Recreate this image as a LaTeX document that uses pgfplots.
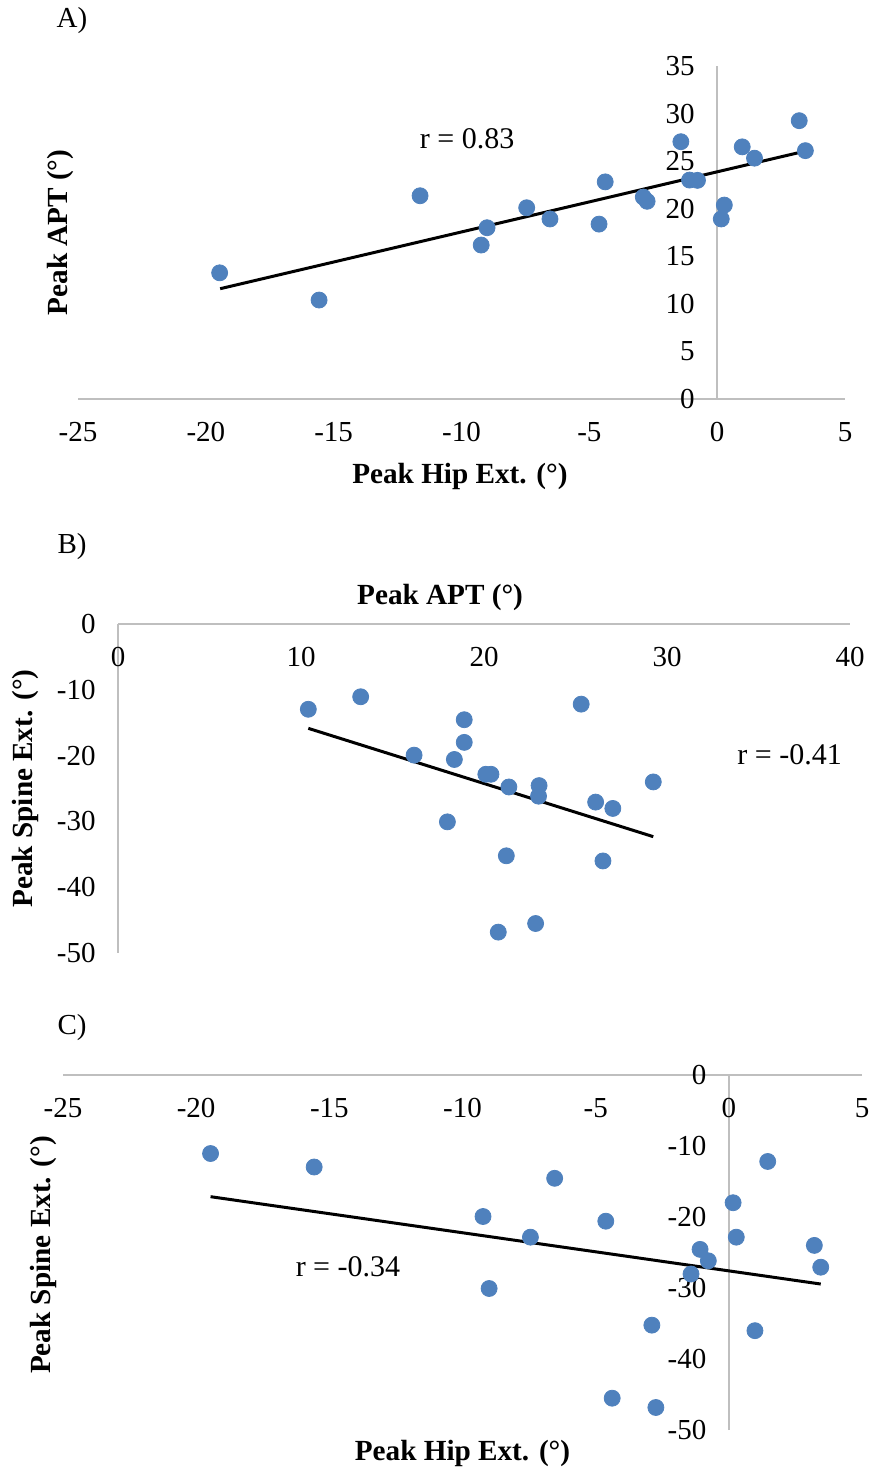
\documentclass[border=0pt]{standalone}
\usepackage{fontspec}
\setmainfont{Liberation Serif}
\usepackage{pgfplots}
\pgfplotsset{compat=1.18}
\usepackage{pgfplotstable}

\definecolor{xlblue}{HTML}{4F81BD}
\definecolor{xlgray}{HTML}{BFBFBF}

% one row per subject; spineC is nan where panel C shows no point
\pgfplotstableread{
hip    apt    spineB  spineC
-19.46 13.26  -11.06  -11.06
-15.57 10.40  -12.96  -12.96
-11.62 21.36  -24.77  nan
-9.23  16.18  -19.93  -19.93
-9.00  18.00  -30.07  -30.07
-7.45  20.10  -22.84  -22.84
-6.54  18.92  -14.55  -14.55
-4.62  18.38  -20.59  -20.59
-4.38  22.82  -45.52  -45.52
-2.89  21.22  -35.23  -35.23
-2.74  20.78  -46.83  -46.83
-1.42  27.04  -28.03  -28.03
-1.08  23.01  -24.56  -24.56
-0.77  22.98  -26.17  -26.17
0.16   18.92  -17.99  -17.99
0.28   20.38  -22.84  -22.84
0.98   26.50  -36.01  -36.01
1.46   25.31  -12.18  -12.18
3.21   29.25  -24.00  -24.00
3.45   26.10  -27.07  -27.07
}\subj

\pgfplotsset{
  panel/.style={
    scale only axis,
    axis lines=middle,
    axis line style={-, draw=xlgray, line width=0.9pt},
    enlargelimits=false,
    clip=false,
    hide obscured x ticks=false,
    hide obscured y ticks=false,
    major tick length=0pt,
    tick style={draw=none},
    ticklabel style={font=\fontsize{14.5}{17}\selectfont},
    /pgf/number format/assume math mode=true,
    xticklabel style={anchor=north, yshift=-8pt},
    yticklabel style={anchor=east, xshift=-7.7pt},
    label style={font=\fontsize{14.6}{17}\selectfont\bfseries},
  },
  dots/.style={only marks, mark=*, mark size=4pt, color=xlblue},
  fit/.style={black, line width=1.5pt, no marks},
}
\newcommand{\rfont}{\fontsize{15}{18}\selectfont}

\begin{document}
\begin{tikzpicture}
\useasboundingbox (0,0) rectangle (436pt,736pt);

\node[font=\fontsize{14.5}{17}\selectfont] at (36pt,725.5pt) {A)};
\node[font=\fontsize{14.5}{17}\selectfont] at (36pt,462.5pt) {B)};
\node[font=\fontsize{14.5}{17}\selectfont] at (36pt,222pt) {C)};

% A) hip extension vs APT
\begin{axis}[panel,
    at={(39pt,536.5pt)}, anchor=south west,
    width=383.5pt, height=166.5pt,
    xmin=-25, xmax=5, ymin=0, ymax=35,
    xtick={-25,-20,...,5}, ytick={0,5,...,35},
    xlabel={Peak Hip Ext. (°)}, ylabel={Peak APT (°)},
    xlabel style={at={(axis description cs:0.498,-0.234)}, anchor=center},
    ylabel style={at={(axis description cs:-0.023,0.5)}, anchor=center, rotate=90},
  ]
  \addplot[dots] table[x=hip, y=apt] {\subj};
  \addplot[fit] coordinates {(-19.44,11.59) (3.44,26.05)};
  \node[font=\rfont] at (axis cs:-9.78,27.4) {r = 0.83};
\end{axis}

% B) APT vs spine extension
\begin{axis}[panel,
    at={(59pt,259.5pt)}, anchor=south west,
    width=366pt, height=164.5pt,
    xmin=0, xmax=40, ymin=-50, ymax=0,
    xtick={0,10,...,40}, ytick={-50,-40,...,0},
    xlabel={Peak APT (°)}, ylabel={Peak Spine Ext. (°)},
    xlabel style={at={(axis description cs:0.44,1.082)}, anchor=center},
    ylabel style={at={(axis description cs:-0.127,0.5)}, anchor=center, rotate=90},
  ]
  \addplot[dots] table[x=apt, y=spineB] {\subj};
  \addplot[fit] coordinates {(10.40,-15.86) (29.25,-32.32)};
  \node[font=\rfont] at (axis cs:36.7,-19.9) {r = -0.41};
\end{axis}

% C) hip extension vs spine extension
\begin{axis}[panel,
    at={(31.5pt,21pt)}, anchor=south west,
    width=399.5pt, height=177.5pt,
    xmin=-25, xmax=5, ymin=-50, ymax=0,
    xtick={-25,-20,...,5}, ytick={-50,-40,...,0},
    xlabel={Peak Hip Ext. (°)}, ylabel={Peak Spine Ext. (°)},
    xlabel style={at={(axis description cs:0.50,-0.065)}, anchor=center},
    ylabel style={at={(axis description cs:-0.025,0.493)}, anchor=center, rotate=90},
  ]
  \addplot[dots] table[x=hip, y=spineC] {\subj};
  \addplot[fit] coordinates {(-19.46,-17.14) (3.45,-29.44)};
  \node[font=\rfont] at (axis cs:-14.3,-27.0) {r = -0.34};
\end{axis}
\end{tikzpicture}
\end{document}
